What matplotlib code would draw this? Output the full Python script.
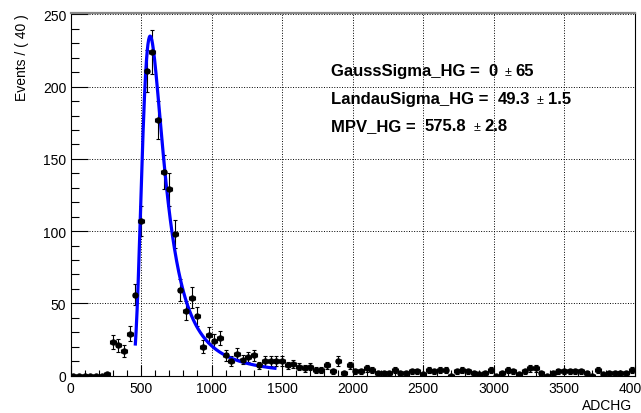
import numpy as np
import matplotlib
matplotlib.use("Agg")
import matplotlib.pyplot as plt
from matplotlib.ticker import MultipleLocator

plt.rcParams['font.family'] = ['Liberation Sans', 'DejaVu Sans']

# histogram: 100 bins of width 40 over [0, 4000]
bin_width = 40
bin_centers = np.arange(20, 4000, bin_width)
counts = [0, 0, 0, 0, 0, 0, 1, 23, 21, 17,
          29, 56, 107, 211, 224, 177, 141, 129, 98, 59,
          45, 54, 41, 20, 28, 24, 26, 14, 10, 15,
          11, 13, 14, 7, 10, 10, 10, 10, 7, 8,
          6, 5, 6, 4, 4, 7, 3, 10, 2, 7,
          3, 3, 5, 4, 2, 2, 2, 4, 2, 2,
          3, 3, 1, 4, 3, 4, 4, 0, 3, 4,
          3, 2, 1, 2, 4, 0, 2, 4, 3, 1,
          3, 5, 5, 2, 0, 2, 3, 3, 3, 3,
          3, 2, 0, 4, 1, 2, 2, 2, 2, 4]

# fit result (Landau, gauss sigma = 0)
mpv = 575.8
landau_sigma = 49.3
fit_range = (460, 1450)
fit_peak = 235.0

fit_labels = ["GaussSigma_HG =", "LandauSigma_HG =", "MPV_HG ="]
fit_values = ["0", "49.3", "575.8"]
fit_errors = ["65", "1.5", "2.8"]


def landau(lam):
    t = np.linspace(1e-9, 40, 20001)
    out = []
    for l in lam:
        f = np.exp(-t * np.log(t) - l * t) * np.sin(np.pi * t)
        out.append(np.trapezoid(f, t) / np.pi)
    return np.array(out)


xf = np.linspace(fit_range[0], fit_range[1], 400)
yf = landau((xf - mpv) / landau_sigma)
yf = yf / yf.max() * fit_peak

counts = np.array(counts, dtype=float)
errs = np.sqrt(counts)

W, H = 641, 414
fig = plt.figure(figsize=(W / 100, H / 100), dpi=100)
ax = fig.add_axes([70.5 / W, 1 - 376.5 / H, (634.5 - 70.5) / W, (376.5 - 14) / H])

ax.errorbar(bin_centers, counts, yerr=errs, xerr=bin_width / 2, fmt='o',
            color='black', ms=3.6, elinewidth=0.8, capsize=1.2, capthick=0.8)
ax.plot(xf, yf, color='#0000ff', lw=2.3)

ax.set_xlim(0, 4000)
ax.set_ylim(0, 251)
ax.xaxis.set_major_locator(MultipleLocator(500))
ax.xaxis.set_minor_locator(MultipleLocator(100))
ax.yaxis.set_major_locator(MultipleLocator(50))
ax.yaxis.set_minor_locator(MultipleLocator(10))
ax.tick_params(axis='x', which='major', direction='in', length=8, width=0.8,
               labelsize=10, pad=4)
ax.tick_params(axis='x', which='minor', direction='in', length=4, width=0.8)
ax.tick_params(axis='y', which='major', direction='in', length=12, width=0.8,
               labelsize=10, pad=3)
ax.tick_params(axis='y', which='minor', direction='in', length=6, width=0.8)
ax.grid(True, which='major', color='black', linestyle=':', linewidth=0.7)
ax.set_axisbelow(True)
for s in ax.spines.values():
    s.set_linewidth(0.8)
ax.spines['top'].set_color('#888888')
ax.spines['top'].set_linewidth(1.6)

ax.set_ylabel('Events / ( 40 )', fontsize=10, loc='top')
ax.yaxis.set_label_coords(-0.074, 1.0)
ax.set_xlabel('ADCHG', fontsize=10, loc='right')
ax.xaxis.set_label_coords(0.996, -0.062)

# fit parameter text: chain the pieces one after another
renderer = fig.canvas.get_renderer()
label_x = 331
base_y = [76, 104, 131]
for i in range(3):
    y = 1 - base_y[i] / H
    x = label_x
    pieces = [(fit_labels[i], 12, 'bold', 9),
              (fit_values[i], 12, 'bold', 7),
              ('\u00b1', 9, 'normal', 4),
              (fit_errors[i], 12, 'bold', 0)]
    for txt, size, weight, gap in pieces:
        t = fig.text(x / W, y, txt, fontsize=size, fontweight=weight, va='baseline')
        bb = t.get_window_extent(renderer)
        x = bb.x1 + gap

fig.savefig('out.png', dpi=100)
